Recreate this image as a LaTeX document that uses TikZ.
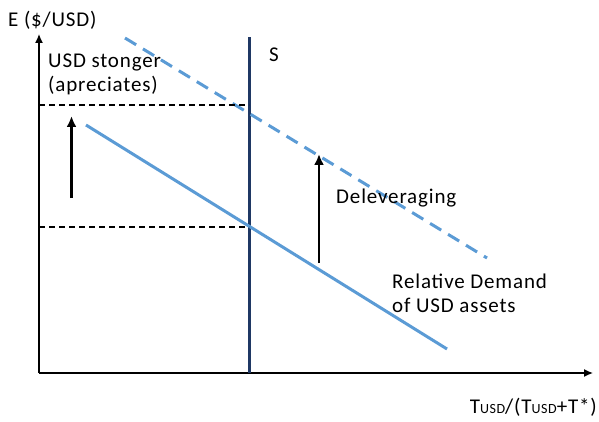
\documentclass[tikz,border=0pt]{standalone}
\usepackage{fontspec}
\setmainfont{Carlito}[LetterSpace=4]
\usetikzlibrary{arrows.meta}
\definecolor{demandblue}{HTML}{5B9BD5}
\definecolor{supplynavy}{HTML}{1F3864}
\newcommand{\usdsub}{{\fontsize{14}{14}\selectfont USD}}
\tikzset{
  axis/.style={line width=1.3pt, -{Latex[length=9pt,width=8pt]}},
  guide/.style={line width=1.1pt, dash pattern=on 6pt off 4pt},
  shiftarrow/.style={line width=2.2pt, -{Latex[length=11pt,width=10pt]}},
  lbl/.style={inner sep=0pt, font=\fontsize{21}{24}\selectfont, anchor=base west, align=left},
}
\begin{document}
\begin{tikzpicture}[x=1pt,y=-1pt]
\useasboundingbox (0,0) rectangle (599,422);
% axes
\coordinate (O) at (39,373);
\coordinate (Ytop) at (39,34);
\coordinate (Xend) at (593,373);
\draw[axis] (O) -- (Ytop);
\draw[axis] (O) -- (Xend);
% supply line
\coordinate (Sbot) at (249,373);
\coordinate (Stop) at (249,37);
\draw[supplynavy, line width=3pt] (Sbot) -- (Stop);
% demand curves
\coordinate (D1a) at (86,125);
\coordinate (D1b) at (447,349);
\draw[demandblue, line width=3pt] (D1a) -- (D1b);
\coordinate (D2a) at (125,38);
\coordinate (D2b) at (487,258);
\draw[demandblue, line width=3pt, dash pattern=on 13pt off 8pt] (D2a) -- (D2b);
% guide lines
\coordinate (Ghi) at (39,105);
\coordinate (Ghi2) at (249,105);
\coordinate (Glo) at (39,227);
\coordinate (Glo2) at (249,227);
\draw[guide] (Ghi) -- (Ghi2);
\draw[guide] (Glo) -- (Glo2);
% shift arrows
\coordinate (A1s) at (71.5,198);
\coordinate (A1e) at (71.5,116);
\draw[shiftarrow] (A1s) -- (A1e);
\coordinate (A2s) at (319,263);
\coordinate (A2e) at (319,154);
\draw[shiftarrow] (A2s) -- (A2e);
% labels (two-line labels are anchored at the baseline of their last line)
\node[lbl] (ylab) at (8,27) {E (\$/USD)};
\node[lbl] (slab) at (269,62) {S};
\node[lbl] (stronger) at (48,92) {USD stonger\\(apreciates)};
\node[lbl] (delev) at (336,203) {Deleveraging};
\node[lbl] (demlab) at (392,312) {Relative Demand\\of USD assets};
\node[lbl, anchor=base east] (xlab) at (597,413) {T\usdsub/(T\usdsub+T*)};
\end{tikzpicture}
\end{document}
